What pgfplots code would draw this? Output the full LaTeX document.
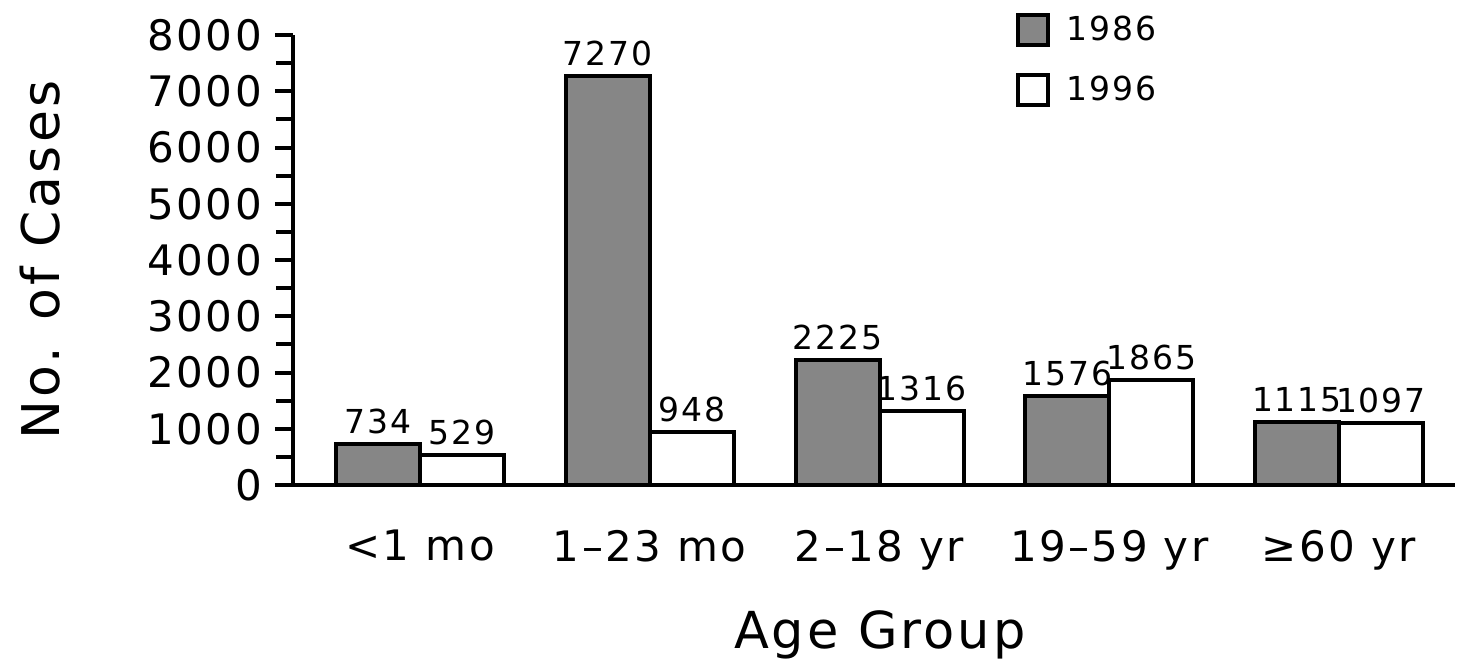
\documentclass[border=0pt]{standalone}
\usepackage{pgfplots}
\pgfplotsset{compat=1.18}
\usepackage{fontspec}
\setmainfont{DejaVu Sans}[LetterSpace=6]
\definecolor{bargray}{RGB}{134,134,134}
\begin{document}
\begin{tikzpicture}
\begin{axis}[
  scale only axis,
  width=581pt, height=225pt,
  xmin=-0.553, xmax=4.505,
  ymin=0, ymax=8000,
  axis lines=left,
  axis line style={line width=2pt, -},
  ybar=0pt,
  bar width=42pt,
  xtick={0,1,2,3,4},
  xticklabels={<1 mo, 1--23 mo, 2--18 yr, 19--59 yr, ≥60 yr},
  x tick style={draw=none},
  xticklabel style={font=\fontsize{21}{25}\selectfont, anchor=north, yshift=-10pt},
  ytick={0,1000,...,8000},
  minor ytick={500,1500,...,7500},
  y tick style={line width=2pt, black},
  tick align=outside,
  major tick length=9pt,
  minor tick length=8.5pt,
  yticklabel style={font=\fontsize{21}{25}\selectfont, xshift=-3pt},
  /pgf/number format/assume math mode=true,
  /pgf/number format/1000 sep={},
  scaled y ticks=false,
  ylabel={No. of Cases},
  ylabel style={at={(axis description cs:-0.2177,0.5)}, anchor=center, font=\fontsize{26}{30}\selectfont},
  xlabel={Age Group},
  xlabel style={at={(axis description cs:0.505,-0.333)}, anchor=center, font=\fontsize{25.5}{30}\selectfont},
  nodes near coords,
  every node near coord/.append style={font=\fontsize{16.5}{19}\selectfont, /pgf/number format/assume math mode=true, inner sep=4pt},
  legend style={at={(axis description cs:0.617,1.06)}, anchor=north west, draw=none, fill=none,
    font=\fontsize{16.5}{19}\selectfont, row sep=12pt,
    /tikz/every odd column/.append style={column sep=6pt}},
  legend cell align=left,
  legend image code/.code={\draw[#1, line width=2pt] (0pt,-7.5pt) rectangle (15pt,7.5pt);},
  clip=false,
]
\addplot[fill=bargray, draw=black, line width=2pt] coordinates {(0,734) (1,7270) (2,2225) (3,1576) (4,1115)};
\addplot[fill=white, draw=black, line width=2pt] coordinates {(0,529) (1,948) (2,1316) (3,1865) (4,1097)};
\legend{1986,1996}
\end{axis}
\pgfresetboundingbox
\path (-146.5pt,-90pt) rectangle (586.5pt,242.5pt);
\end{tikzpicture}
\end{document}
